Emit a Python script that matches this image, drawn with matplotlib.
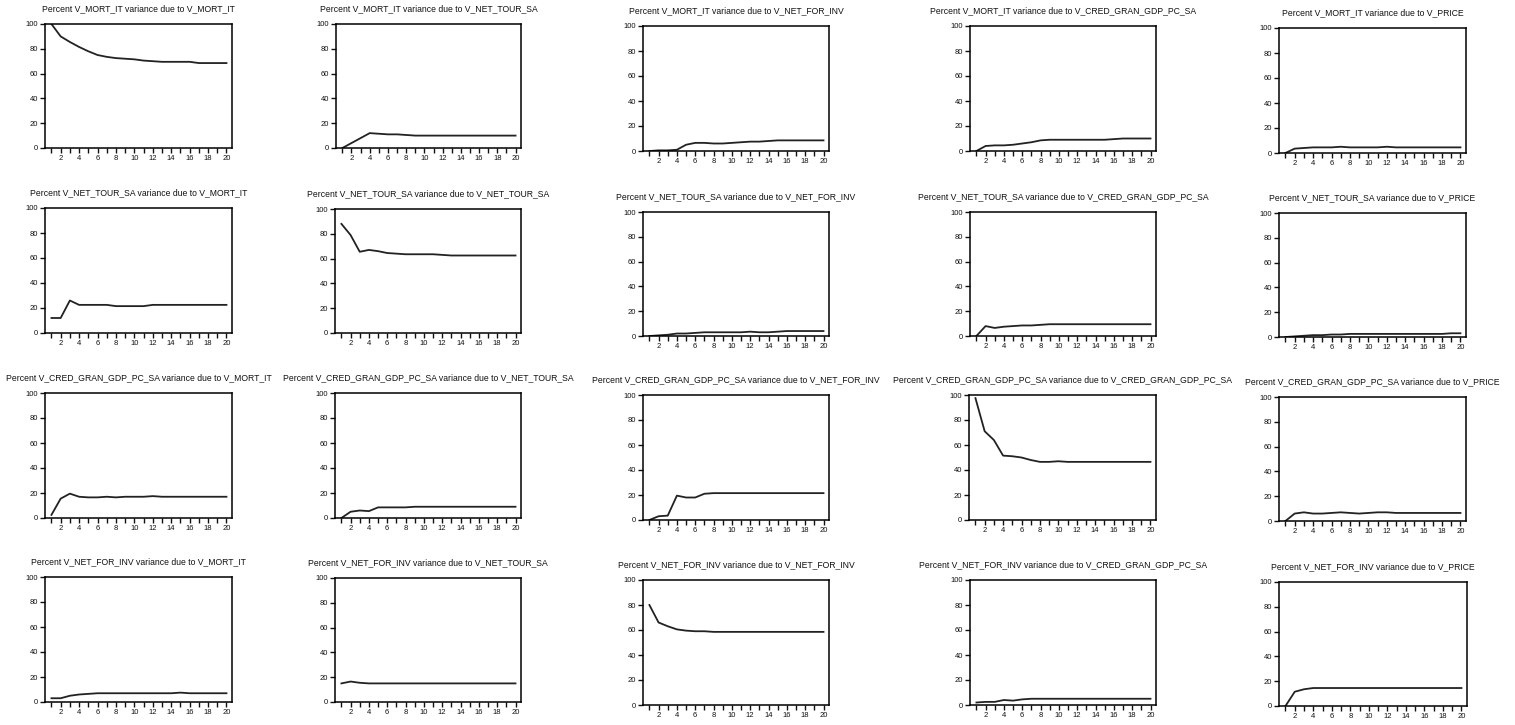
import matplotlib
matplotlib.use("Agg")
import matplotlib.pyplot as plt
import numpy as np

plt.rcParams["font.family"] = ["Liberation Sans Narrow", "Liberation Sans", "DejaVu Sans"]

steps = np.arange(1, 21)
responses = ["V_MORT_IT", "V_NET_TOUR_SA", "V_CRED_GRAN_GDP_PC_SA", "V_NET_FOR_INV"]
impulses = ["V_MORT_IT", "V_NET_TOUR_SA", "V_NET_FOR_INV", "V_CRED_GRAN_GDP_PC_SA", "V_PRICE"]

# variance shares of V_MORT_IT
mort_mort = [100, 90, 85.5, 81.5, 78, 75, 73.5, 72.5, 72, 71.5, 70.5, 70, 69.5, 69.5, 69.5, 69.5, 68.5, 68.5, 68.5, 68.5]
mort_tour = [0, 4, 8, 12, 11.5, 11, 11, 10.5, 10, 10, 10, 10, 10, 10, 10, 10, 10, 10, 10, 10]
mort_inv = [0, 0.5, 0.5, 1, 5, 6.5, 6.5, 6, 6, 6.5, 7, 7.5, 7.5, 8, 8.5, 8.5, 8.5, 8.5, 8.5, 8.5]
mort_cred = [0, 4, 4.5, 4.5, 5, 6, 7, 8.5, 9, 9, 9, 9, 9, 9, 9, 9.5, 10, 10, 10, 10]
mort_price = [0, 3.5, 4, 4.5, 4.5, 4.5, 5, 4.5, 4.5, 4.5, 4.5, 5, 4.5, 4.5, 4.5, 4.5, 4.5, 4.5, 4.5, 4.5]

# variance shares of V_NET_TOUR_SA
tour_mort = [12, 12, 26, 22.5, 22.5, 22.5, 22.5, 21.5, 21.5, 21.5, 21.5, 22.5, 22.5, 22.5, 22.5, 22.5, 22.5, 22.5, 22.5, 22.5]
tour_tour = [88, 79, 65.5, 67, 66, 64.5, 64, 63.5, 63.5, 63.5, 63.5, 63, 62.5, 62.5, 62.5, 62.5, 62.5, 62.5, 62.5, 62.5]
tour_inv = [0, 0.5, 1, 2, 2, 2.5, 3, 3, 3, 3, 3, 3.5, 3, 3, 3.5, 4, 4, 4, 4, 4]
tour_cred = [0, 8, 6.5, 7.5, 8, 8.5, 8.5, 9, 9.5, 9.5, 9.5, 9.5, 9.5, 9.5, 9.5, 9.5, 9.5, 9.5, 9.5, 9.5]
tour_price = [0, 0.5, 1, 1.5, 1.5, 2, 2, 2.5, 2.5, 2.5, 2.5, 2.5, 2.5, 2.5, 2.5, 2.5, 2.5, 2.5, 3, 3]

# variance shares of V_CRED_GRAN_GDP_PC_SA
cred_mort = [2.5, 15.5, 19.5, 17, 16.5, 16.5, 17, 16.5, 17, 17, 17, 17.5, 17, 17, 17, 17, 17, 17, 17, 17]
cred_tour = [0, 5, 6, 5.5, 8.5, 8.5, 8.5, 8.5, 9, 9, 9, 9, 9, 9, 9, 9, 9, 9, 9, 9]
cred_inv = [0, 3, 3.5, 19.5, 18, 18, 21, 21.5, 21.5, 21.5, 21.5, 21.5, 21.5, 21.5, 21.5, 21.5, 21.5, 21.5, 21.5, 21.5]
cred_cred = [97.5, 71, 64, 51.5, 51, 50, 48, 46.5, 46.5, 47, 46.5, 46.5, 46.5, 46.5, 46.5, 46.5, 46.5, 46.5, 46.5, 46.5]
cred_price = [0, 6, 7, 6, 6, 6.5, 7, 6.5, 6, 6.5, 7, 7, 6.5, 6.5, 6.5, 6.5, 6.5, 6.5, 6.5, 6.5]

# variance shares of V_NET_FOR_INV
inv_mort = [3, 3, 5, 6, 6.5, 7, 7, 7, 7, 7, 7, 7, 7, 7, 7.5, 7, 7, 7, 7, 7]
inv_tour = [15, 16.5, 15.5, 15, 15, 15, 15, 15, 15, 15, 15, 15, 15, 15, 15, 15, 15, 15, 15, 15]
inv_inv = [80, 66, 63, 60.5, 59.5, 59, 59, 58.5, 58.5, 58.5, 58.5, 58.5, 58.5, 58.5, 58.5, 58.5, 58.5, 58.5, 58.5, 58.5]
inv_cred = [2, 2.5, 2.5, 4, 3.5, 4.5, 5, 5, 5, 5, 5, 5, 5, 5, 5, 5, 5, 5, 5, 5]
inv_price = [0, 11.5, 13.5, 14.5, 14.5, 14.5, 14.5, 14.5, 14.5, 14.5, 14.5, 14.5, 14.5, 14.5, 14.5, 14.5, 14.5, 14.5, 14.5, 14.5]

grid = [
    [mort_mort, mort_tour, mort_inv, mort_cred, mort_price],
    [tour_mort, tour_tour, tour_inv, tour_cred, tour_price],
    [cred_mort, cred_tour, cred_inv, cred_cred, cred_price],
    [inv_mort, inv_tour, inv_inv, inv_cred, inv_price],
]

# panel boxes in pixels: left, top, right, bottom
boxes = [
    [(45, 24, 232, 148), (336, 24, 521, 148), (643, 26, 829, 151), (970, 26, 1156, 151), (1279, 28, 1466, 153)],
    [(45, 208, 232, 333), (335, 209, 521, 333), (643, 212, 829, 336), (970, 212, 1156, 336), (1279, 213, 1466, 337)],
    [(45, 393, 232, 518), (335, 393, 521, 518), (643, 395, 829, 520), (969, 395, 1156, 520), (1279, 397, 1466, 521)],
    [(45, 577, 232, 702), (335, 578, 521, 702), (643, 580, 829, 705), (970, 580, 1156, 705), (1279, 582, 1467, 706)],
]

W, H = 1515, 725
fig = plt.figure(figsize=(W / 100, H / 100), dpi=100)

for i, resp in enumerate(responses):
    for j, imp in enumerate(impulses):
        l, t, r, b = boxes[i][j]
        ax = fig.add_axes([l / W, 1 - b / H, (r - l) / W, (b - t) / H])
        ax.plot(steps, grid[i][j], color="#222222", lw=1.3)
        ax.set_xlim(0.3, 20.6)
        ax.set_ylim(0, 100)
        ax.set_xticks(steps)
        ax.set_xticklabels([str(s) if s % 2 == 0 else "" for s in steps])
        ax.set_yticks([0, 20, 40, 60, 80, 100])
        ax.tick_params(direction="out", length=3.5, width=1, labelsize=5.5, pad=1.5, colors="#111111")
        for sp in ax.spines.values():
            sp.set_linewidth(1.1)
        ax.set_title(f"Percent {resp} variance due to {imp}", fontsize=6.2, pad=9, color="#111111")

fig.savefig("out.png", dpi=100)
